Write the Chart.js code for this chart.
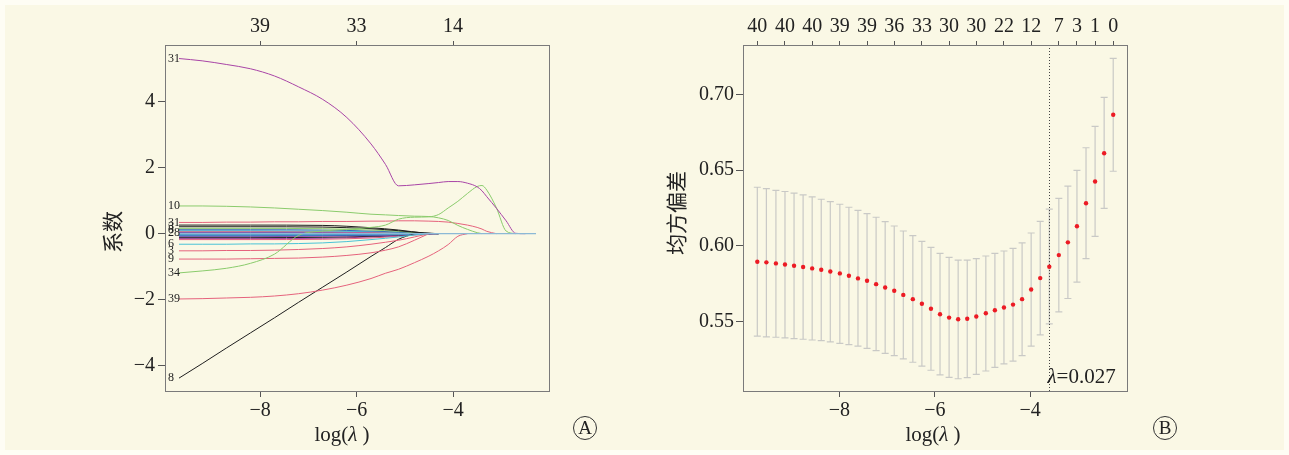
<!DOCTYPE html>
<html>
<head>
<meta charset="utf-8">
<script src="https://cdn.jsdelivr.net/npm/chart.js@4"></script>
<style>
  body { margin: 0; background: #fefdf4; }
  #wrap { position: relative; width: 1289px; height: 455px; }
  #inset { position: absolute; left: 5px; top: 5px; right: 5px; bottom: 5px; background: #faf8e5; }
  .box { position: absolute; top: 0; height: 455px; }
</style>
</head>
<body>
<div id="wrap">
  <div id="inset"></div>
  <div class="box" style="left:0;width:640px"><canvas id="pathChart"></canvas></div>
  <div class="box" style="left:640px;width:649px"><canvas id="cvChart"></canvas></div>
</div>
<script>
// ---- panel A: coefficient paths ----
const pathX = [-9.68, -9.2, -8.7, -8.2, -7.7, -7.2, -6.7, -6.2, -5.7, -5.4, -5.13, -4.8, -4.5, -4.3, -4.1, -3.9, -3.7, -3.5, -3.4, -3.3, -3.1, -2.9, -2.7, -2.5, -2.28];
const coef31 = [5.31, 5.24, 5.13, 5.0, 4.78, 4.45, 4.07, 3.52, 2.72, 2.1, 1.45, 1.48, 1.52, 1.55, 1.58, 1.58, 1.53, 1.42, 1.3, 1.12, 0.77, 0.39, 0.01, 0, 0];
const coef34 = [-1.19, -1.13, -1.05, -0.9, -0.62, -0.05, 0.08, 0.13, 0.19, 0.26, 0.44, 0.5, 0.51, 0.58, 0.78, 0.98, 1.22, 1.43, 1.46, 1.32, 0.78, 0.08, 0, 0, 0];
const coef10 = [0.84, 0.84, 0.83, 0.81, 0.78, 0.74, 0.7, 0.65, 0.59, 0.57, 0.55, 0.53, 0.52, 0.48, 0.4, 0.25, 0.13, 0.03, 0, 0, 0, 0, 0, 0, 0];
const coef31b = [0.34, 0.34, 0.35, 0.35, 0.36, 0.36, 0.37, 0.37, 0.38, 0.38, 0.39, 0.39, 0.38, 0.37, 0.35, 0.31, 0.26, 0.19, 0.14, 0.07, 0, 0, 0, 0, 0];
const coef8 = [-4.38, -3.94, -3.47, -3.01, -2.55, -2.08, -1.62, -1.16, -0.69, -0.42, -0.17, 0, 0, 0, 0, 0, 0, 0, 0, 0, 0, 0, 0, 0, 0];
const coef39 = [-1.98, -1.97, -1.95, -1.93, -1.89, -1.82, -1.71, -1.56, -1.36, -1.2, -1.08, -0.88, -0.68, -0.52, -0.33, -0.08, 0, 0, 0, 0, 0, 0, 0, 0, 0];
const coef9 = [-0.77, -0.77, -0.77, -0.76, -0.75, -0.74, -0.71, -0.66, -0.58, -0.5, -0.4, -0.2, 0, 0, 0, 0, 0, 0, 0, 0, 0, 0, 0, 0, 0];
const coef3 = [-0.52, -0.52, -0.51, -0.51, -0.5, -0.48, -0.45, -0.4, -0.32, -0.26, -0.2, -0.1, 0, 0, 0, 0, 0, 0, 0, 0, 0, 0, 0, 0, 0];
const coef6 = [-0.32, -0.32, -0.32, -0.31, -0.31, -0.3, -0.28, -0.24, -0.18, -0.14, -0.1, -0.04, 0, 0, 0, 0, 0, 0, 0, 0, 0, 0, 0, 0, 0];

// the many small coefficients squeezed near zero
const smallX = [-9.68, -8.2, -6.7, -5.7, -5.13, -4.6, -4.3, -2.28];
const smallCoefs = [
  [0.26, 0.26, 0.25, 0.18, 0.11, 0.02, 0, 0],
  [0.21, 0.21, 0.2, 0.15, 0.09, 0.02, 0, 0],
  [0.16, 0.16, 0.15, 0.11, 0.07, 0.01, 0, 0],
  [0.12, 0.12, 0.11, 0.08, 0.05, 0.01, 0, 0],
  [0.09, 0.09, 0.08, 0.06, 0.04, 0.01, 0, 0],
  [0.07, 0.07, 0.06, 0.05, 0.03, 0.01, 0, 0],
  [0.05, 0.05, 0.05, 0.04, 0.02, 0, 0, 0],
  [0.03, 0.03, 0.03, 0.02, 0.01, 0, 0, 0],
  [0.01, 0.01, 0.01, 0.01, 0, 0, 0, 0],
  [-0.01, -0.01, -0.01, -0.01, 0, 0, 0, 0],
  [-0.03, -0.03, -0.03, -0.02, -0.01, 0, 0, 0],
  [-0.05, -0.05, -0.05, -0.04, -0.02, 0, 0, 0],
  [-0.07, -0.07, -0.06, -0.05, -0.03, -0.01, 0, 0],
  [-0.09, -0.09, -0.08, -0.06, -0.04, -0.01, 0, 0],
  [-0.12, -0.12, -0.11, -0.08, -0.05, -0.01, 0, 0],
  [-0.15, -0.15, -0.14, -0.1, -0.06, -0.01, 0, 0],
  [-0.18, -0.18, -0.17, -0.13, -0.08, -0.02, 0, 0],
  [0, 0, 0, 0, 0, 0, 0, 0]
];
const smallTags = ["", "3", "", "8", "", "", "", "28", "", "", "", "", "", "", "", "", "", ""];

const pathTicksX = [-8, -6, -4];
const pathTopLabels = ["39", "33", "14"];
const pathTicksY = [-4, -2, 0, 2, 4];

// ---- panel B: cross-validation curve ----
const cvX = [-9.72, -9.53, -9.33, -9.14, -8.95, -8.76, -8.57, -8.38, -8.19, -7.99, -7.8, -7.61, -7.42, -7.23, -7.04, -6.85, -6.66, -6.46, -6.27, -6.08, -5.89, -5.7, -5.51, -5.32, -5.13, -4.93, -4.74, -4.55, -4.36, -4.17, -3.98, -3.79, -3.6, -3.4, -3.21, -3.02, -2.83, -2.64, -2.45, -2.26];
const cvMean = [0.5894, 0.589, 0.5883, 0.5876, 0.5868, 0.5859, 0.585, 0.5841, 0.583, 0.5817, 0.5801, 0.5784, 0.5768, 0.5746, 0.5724, 0.5702, 0.5675, 0.5647, 0.5616, 0.5583, 0.5547, 0.5525, 0.5514, 0.5517, 0.5532, 0.5554, 0.5574, 0.5592, 0.5611, 0.5647, 0.5711, 0.5786, 0.5861, 0.5938, 0.6022, 0.6128, 0.628, 0.6424, 0.6611, 0.6865];
const cvUpper = [0.6386, 0.6377, 0.6366, 0.6358, 0.6347, 0.6336, 0.6322, 0.6307, 0.6291, 0.6274, 0.6254, 0.6234, 0.6212, 0.6188, 0.6159, 0.613, 0.6097, 0.6066, 0.6029, 0.5989, 0.5949, 0.5923, 0.5905, 0.5905, 0.5914, 0.5932, 0.5949, 0.5965, 0.5982, 0.6018, 0.6084, 0.6161, 0.6241, 0.6313, 0.6393, 0.6497, 0.6647, 0.6788, 0.698, 0.7238];
const cvLower = [0.5402, 0.5397, 0.5395, 0.5391, 0.5386, 0.5382, 0.5377, 0.5373, 0.5364, 0.5355, 0.5347, 0.5336, 0.5322, 0.5307, 0.5289, 0.5274, 0.5252, 0.523, 0.5205, 0.5177, 0.5146, 0.513, 0.5121, 0.5128, 0.515, 0.5172, 0.5196, 0.5219, 0.5238, 0.5274, 0.5336, 0.5411, 0.5483, 0.5563, 0.5651, 0.5759, 0.5914, 0.6062, 0.6247, 0.6492];
const cvTopX = [-9.72, -9.14, -8.57, -7.99, -7.42, -6.85, -6.27, -5.7, -5.13, -4.55, -3.98, -3.4, -3.02, -2.64, -2.26];
const cvTopLabels = ["40", "40", "40", "39", "39", "36", "33", "30", "30", "22", "12", "7", "3", "1", "0"];
const cvTicksX = [-8, -6, -4];
const cvTicksY = [0.55, 0.6, 0.65, 0.7];
const logLambda = -3.61;
const lambdaText = "=0.027";

const SERIF = "'Liberation Serif', 'DejaVu Serif', serif";
const CJK = "'Noto Sans CJK SC', sans-serif";
const C = {
  black: "#1e1e1e", red: "#e5627c", green: "#8acb6c", blue: "#3769b8",
  cyan: "#49c3d6", magenta: "#a844a6", zero: "#8cb9d6"
};
const smallColors = [C.black, C.black, C.green, C.blue, C.cyan, C.red, C.magenta, C.blue, C.green,
  C.blue, C.cyan, C.blue, C.blue, C.magenta, C.black, C.magenta, C.red, C.zero];

function pts(xs, ys) { return xs.map((x, i) => ({ x, y: ys[i] })); }
// stop a path where it reaches zero for good; the shared zero line carries on to the end
function trimTail(p) {
  let k = p.length - 1;
  while (k > 0 && p[k - 1].y === 0) k--;
  return p.slice(0, k + 1);
}
function fixTicks(list) { return (s) => { s.ticks = list.map((v) => ({ value: v })); }; }
// R prints negatives with a true minus sign
const num = (v) => String(v).replace("-", "\u2212");

function axis(opts) {
  return {
    type: "linear",
    grid: { drawOnChartArea: false, tickLength: opts.tickLength || 6, color: "#555", tickColor: "#555" },
    border: { display: false },
    ticks: { font: { family: SERIF, size: 20 }, color: "#222", padding: opts.padding || 2,
      autoSkip: false, maxRotation: 0, callback: opts.callback },
    ...opts.extra
  };
}

// frame, axis titles and panel letter
const decoPlugin = {
  id: "deco",
  afterDraw(chart, args, o) {
    const { ctx, chartArea: a } = chart;
    ctx.save();
    ctx.strokeStyle = "#7a7a7a";
    ctx.lineWidth = 1;
    ctx.strokeRect(a.left + 0.5, a.top + 0.5, a.right - a.left - 1, a.bottom - a.top);

    // y title
    ctx.fillStyle = "#222";
    ctx.font = "21px " + CJK;
    ctx.textAlign = "center";
    ctx.textBaseline = "middle";
    ctx.translate(o.yTitleX, o.yTitleY);
    ctx.rotate(-Math.PI / 2);
    ctx.fillText(o.yTitle, 0, 0);
    ctx.setTransform(1, 0, 0, 1, 0, 0);

    // x title log(λ )
    const parts = [["log(", "21px " + SERIF], ["λ", "italic 21px " + SERIF], [" )", "21px " + SERIF]];
    let w = 0;
    parts.forEach((p) => { ctx.font = p[1]; w += ctx.measureText(p[0]).width; });
    let x = o.xTitleX - w / 2;
    ctx.textAlign = "left";
    ctx.textBaseline = "alphabetic";
    parts.forEach((p) => { ctx.font = p[1]; ctx.fillText(p[0], x, o.xTitleY); x += ctx.measureText(p[0]).width; });

    // circled letter
    ctx.beginPath();
    ctx.arc(o.letterX, o.letterY, 11.5, 0, Math.PI * 2);
    ctx.strokeStyle = "#333";
    ctx.stroke();
    ctx.font = "19px " + SERIF;
    ctx.textAlign = "center";
    ctx.textBaseline = "middle";
    ctx.fillText(o.letter, o.letterX, o.letterY + 1);
    ctx.restore();
  }
};

const tagPlugin = {
  id: "tags",
  afterDatasetsDraw(chart) {
    const { ctx, chartArea, scales } = chart;
    ctx.save();
    ctx.font = "12px " + SERIF;
    ctx.fillStyle = "#222";
    ctx.textBaseline = "middle";
    chart.data.datasets.forEach((ds) => {
      if (!ds.tag) return;
      ctx.fillText(ds.tag, chartArea.left + 3, scales.y.getPixelForValue(ds.data[0].y));
    });
    ctx.restore();
  }
};

// panel A datasets; Chart.js paints dataset 0 on top, so the list runs top-down
const mainPaths = [
  [coef8, C.black, "8"], [coef39, C.red, "39"], [coef9, C.red, "9"], [coef3, C.red, "3"],
  [coef6, C.cyan, "6"], [coef31b, C.red, "31"], [coef10, C.green, "10"], [coef34, C.green, "34"],
  [coef31, C.magenta, "31"]
];
const lineStyle = { pointRadius: 0, borderWidth: 1, cubicInterpolationMode: "monotone", fill: false };
const pathSets = [];
pathSets.push({ data: pts(smallX, smallCoefs[smallCoefs.length - 1]), borderColor: C.zero, ...lineStyle, borderWidth: 1.3 });
mainPaths.slice().reverse().forEach(([ys, col, tag]) => {
  pathSets.push({ data: trimTail(pts(pathX, ys)), borderColor: col, tag, ...lineStyle });
});
smallCoefs.slice(0, -1).forEach((row, i) => {
  pathSets.push({ data: trimTail(pts(smallX, row)), borderColor: smallColors[i], tag: smallTags[i], ...lineStyle });
});

new Chart(document.getElementById("pathChart"), {
  type: "line",
  data: { datasets: pathSets },
  options: {
    responsive: true, maintainAspectRatio: false, animation: false,
    layout: { padding: { left: 0, right: 90, top: 0, bottom: 0 } },
    plugins: {
      legend: { display: false }, tooltip: { enabled: false },
      deco: { yTitle: "系数", yTitleX: 112, yTitleY: 232, xTitleX: 342, xTitleY: 441,
        letter: "A", letterX: 585, letterY: 428 }
    },
    scales: {
      x: axis({ callback: num, padding: 2,
        extra: { position: "bottom", min: -9.97, max: -1.99, afterBuildTicks: fixTicks(pathTicksX), afterFit: (s) => { s.height = 64; } } }),
      xTop: axis({ callback: (v, i) => pathTopLabels[i], tickLength: 4, padding: 0,
        extra: { position: "top", min: -9.97, max: -1.99, afterBuildTicks: fixTicks(pathTicksX), afterFit: (s) => { s.height = 45; } } }),
      y: axis({ callback: num, tickLength: 7, padding: 3,
        extra: { position: "left", min: -4.77, max: 5.72, afterBuildTicks: fixTicks(pathTicksY), afterFit: (s) => { s.width = 165; } } })
    }
  },
  plugins: [tagPlugin, decoPlugin]
});

// panel B: error bars and lambda line
const errorBarPlugin = {
  id: "errbars",
  beforeDatasetsDraw(chart) {
    const { ctx, chartArea: a, scales: { x, y } } = chart;
    ctx.save();
    ctx.strokeStyle = "#c9c9c6";
    ctx.lineWidth = 1.2;
    cvX.forEach((v, i) => {
      const px = x.getPixelForValue(v);
      const t = y.getPixelForValue(cvUpper[i]);
      const b = y.getPixelForValue(cvLower[i]);
      ctx.beginPath();
      ctx.moveTo(px, t); ctx.lineTo(px, b);
      ctx.moveTo(px - 3.5, t); ctx.lineTo(px + 3.5, t);
      ctx.moveTo(px - 3.5, b); ctx.lineTo(px + 3.5, b);
      ctx.stroke();
    });
    const lx = Math.round(x.getPixelForValue(logLambda)) + 0.5;
    ctx.strokeStyle = "#444";
    ctx.lineWidth = 1;
    ctx.setLineDash([1, 2]);
    ctx.beginPath();
    ctx.moveTo(lx, a.top); ctx.lineTo(lx, a.bottom);
    ctx.stroke();
    ctx.setLineDash([]);
    ctx.fillStyle = "#222";
    ctx.textBaseline = "alphabetic";
    ctx.font = "italic 21px " + SERIF;
    ctx.fillText("λ", lx - 2, 383);
    const lw = ctx.measureText("λ").width;
    ctx.font = "21px " + SERIF;
    ctx.fillText(lambdaText, lx - 2 + lw, 383);
    ctx.restore();
  }
};

new Chart(document.getElementById("cvChart"), {
  type: "scatter",
  data: {
    datasets: [{ data: pts(cvX, cvMean), pointRadius: 2.2, pointBackgroundColor: "#ec1b24", pointBorderWidth: 0, showLine: false }]
  },
  options: {
    responsive: true, maintainAspectRatio: false, animation: false,
    layout: { padding: { left: 0, right: 161, top: 0, bottom: 0 } },
    plugins: {
      legend: { display: false }, tooltip: { enabled: false },
      deco: { yTitle: "均方偏差", yTitleX: 36, yTitleY: 213, xTitleX: 293, xTitleY: 441,
        letter: "B", letterX: 525, letterY: 428 }
    },
    scales: {
      x: axis({ callback: num, padding: 2,
        extra: { position: "bottom", min: -10.02, max: -1.95, afterBuildTicks: fixTicks(cvTicksX), afterFit: (s) => { s.height = 64; } } }),
      xTop: axis({ callback: (v, i) => cvTopLabels[i], tickLength: 4, padding: 0,
        extra: { position: "top", min: -10.02, max: -1.95, afterBuildTicks: fixTicks(cvTopX), afterFit: (s) => { s.height = 45; } } }),
      y: axis({ callback: (v) => v.toFixed(2), tickLength: 7, padding: 2,
        extra: { position: "left", min: 0.504, max: 0.7326, afterBuildTicks: fixTicks(cvTicksY), afterFit: (s) => { s.width = 103; } } })
    }
  },
  plugins: [errorBarPlugin, decoPlugin]
});
</script>
</body>
</html>
